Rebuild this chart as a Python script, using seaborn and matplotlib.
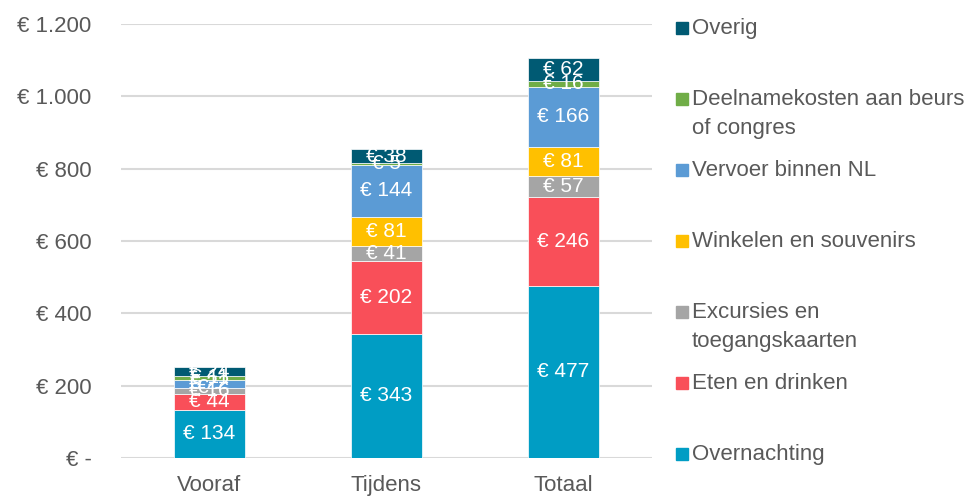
import matplotlib
matplotlib.use('Agg')
import matplotlib.pyplot as plt
import seaborn as sns
import pandas as pd
from matplotlib.patches import Rectangle

# data
perioden = ['Vooraf', 'Tijdens', 'Totaal']
posten = ['Overnachting', 'Eten en drinken', 'Excursies en\ntoegangskaarten',
          'Winkelen en souvenirs', 'Vervoer binnen NL',
          'Deelnamekosten aan beurs\nof congres', 'Overig']
overnachting = [134, 343, 477]
eten = [44, 202, 246]
excursies = [16, 41, 57]
winkelen = [0, 81, 81]
vervoer = [22, 144, 166]
deelname = [11, 5, 16]
overig = [24, 38, 62]
kleuren = ['#009DC4', '#F94F59', '#A5A5A5', '#FFC000', '#5B9BD5', '#70AD47', '#005A73']

waarden = [overnachting, eten, excursies, winkelen, vervoer, deelname, overig]

sns.set_style('white')
plt.rcParams['font.family'] = ['Liberation Sans', 'DejaVu Sans']

fig = plt.figure(figsize=(9.74, 4.97), dpi=100)
ax = fig.add_axes([0.124, 0.0785, 0.545, 0.873])

def euro(v):
    if v == 0:
        return '€ -'
    return '€ ' + f'{v:,.0f}'.replace(',', '.')

onder = [0, 0, 0]
for naam, vals, kleur in zip(posten, waarden, kleuren):
    df = pd.DataFrame({'periode': perioden, 'bedrag': vals})
    sns.barplot(data=df, x='periode', y='bedrag', color=kleur, saturation=1,
                width=0.4, bottom=onder, edgecolor='white', linewidth=0.5, ax=ax)
    ax.bar_label(ax.containers[-1], labels=[euro(v) for v in vals],
                 label_type='center', color='white', fontsize=15)
    onder = [o + v for o, v in zip(onder, vals)]

ax.set_ylim(0, 1200)
ax.set_xlim(-0.5, 2.5)
ax.set_yticks(range(0, 1201, 200))
ax.set_yticklabels([euro(v) for v in range(0, 1201, 200)])
ax.grid(axis='y', color='#D9D9D9', linewidth=1.5)
ax.set_axisbelow(True)
for s in ax.spines.values():
    s.set_visible(False)
ax.set_xlabel('')
ax.set_ylabel('')
ax.tick_params(axis='both', length=0, labelsize=16, labelcolor='#595959')
ax.tick_params(axis='y', pad=21)
ax.tick_params(axis='x', pad=12)

# legend, van boven naar beneden
for i, (naam, kleur) in enumerate(zip(posten[::-1], kleuren[::-1])):
    y = 1 - (28 + i * 71) / 497
    fig.patches.append(Rectangle((676 / 974, y - 6 / 497), 12 / 974, 12 / 497,
                                 transform=fig.transFigure, color=kleur))
    fig.text(692 / 974, y + 10 / 497, naam, fontsize=16, color='#595959',
             va='top', ha='left', linespacing=1.5)

fig.savefig('out.png', dpi=100)
